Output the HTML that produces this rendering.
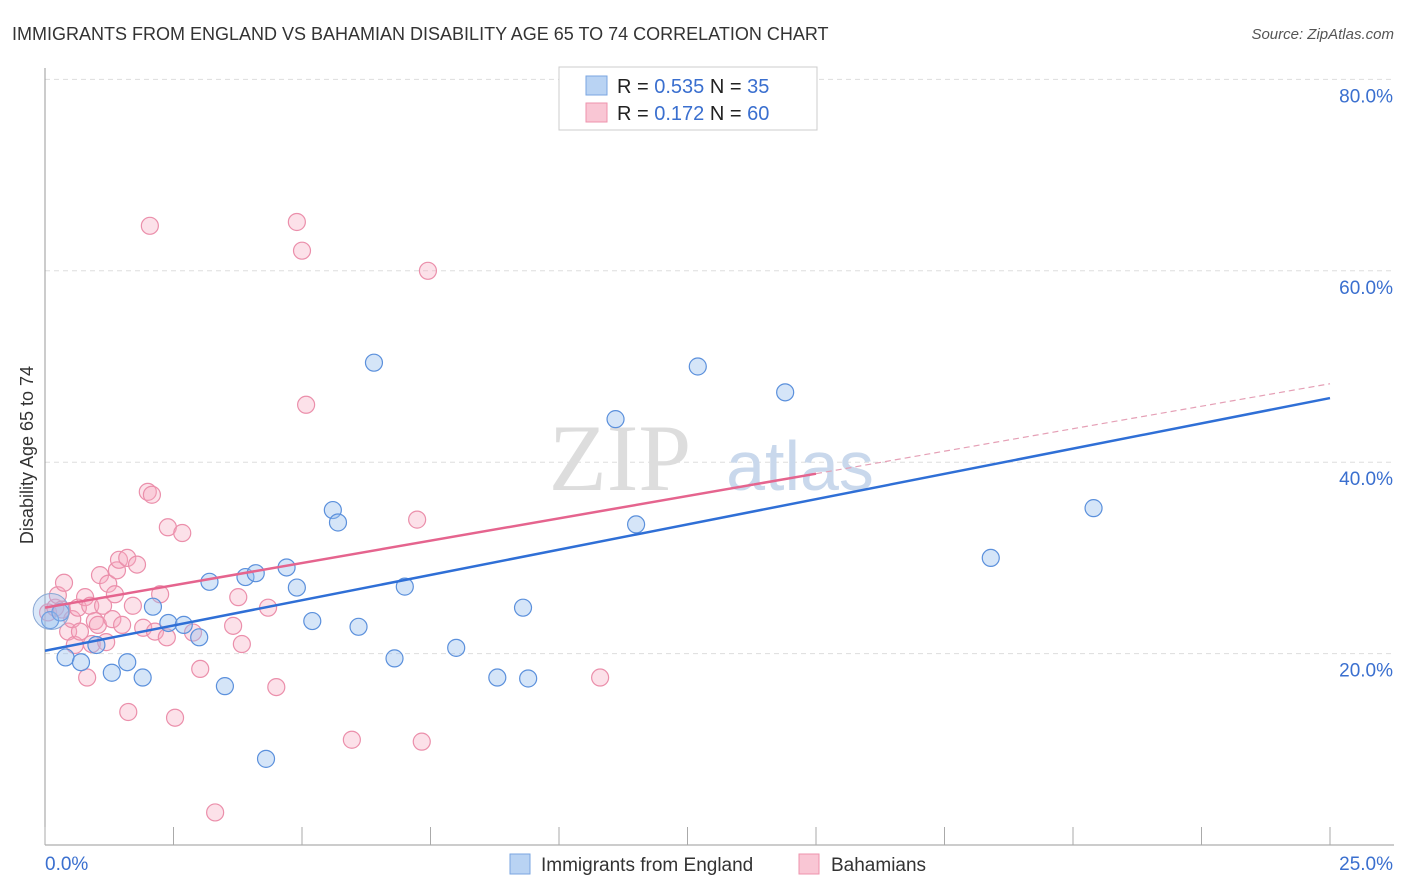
<!DOCTYPE html>
<html><head><meta charset="utf-8">
<style>
body{margin:0;background:#fff;font-family:"Liberation Sans",sans-serif;}
svg{display:block}
</style></head>
<body>
<svg id="chart" width="1406" height="892" viewBox="0 0 1406 892" xmlns="http://www.w3.org/2000/svg">
<text x="12" y="40" font-size="18" fill="#333">IMMIGRANTS FROM ENGLAND VS BAHAMIAN DISABILITY AGE 65 TO 74 CORRELATION CHART</text>
<text x="1394" y="39" font-size="15" fill="#555" text-anchor="end" font-style="italic">Source: ZipAtlas.com</text>
<text transform="translate(33,455) rotate(-90)" font-size="18" fill="#333" text-anchor="middle">Disability Age 65 to 74</text>
<g id="grid"></g>
<g id="axes"></g>
<text x="620" y="490" font-size="95" fill="#ddd" font-family="Liberation Serif,serif" text-anchor="middle">ZIP</text>
<text x="800" y="490" font-size="70" fill="#c9d8ec" text-anchor="middle">atlas</text>
<g id="pts"></g>
<g id="lines"></g>
<g>
<rect x="559" y="67" width="258" height="63" fill="#fff" stroke="#ccc"/>
<rect x="586" y="76" width="21" height="19" fill="#b9d3f3" stroke="#7aa6e0"/>
<rect x="586" y="103" width="21" height="19" fill="#f9c6d4" stroke="#ee93ad"/>
<text x="617" y="93" font-size="20" fill="#222">R = <tspan fill="#3a6fcf">0.535</tspan>   N = <tspan fill="#3a6fcf"> 35</tspan></text>
<text x="617" y="120" font-size="20" fill="#222">R =  <tspan fill="#3a6fcf">0.172</tspan>   N = <tspan fill="#3a6fcf">60</tspan></text>
</g>
<g>
<rect x="510" y="854" width="20" height="20" fill="#b9d3f3" stroke="#7aa6e0"/>
<text x="541" y="871" font-size="19" fill="#333">Immigrants from England</text>
<rect x="799" y="854" width="20" height="20" fill="#f9c6d4" stroke="#ee93ad"/>
<text x="831" y="871" font-size="19" fill="#333">Bahamians</text>
</g>
</svg>
<script>
const yTicks=[20,40,60,80];
const yTickLabels=["20.0%","40.0%","60.0%","80.0%"];
const xTicks=[0,2.5,5,7.5,10,12.5,15,17.5,20,22.5,25];
const englandX=[0.1,0.4,0.7,1.0,1.3,1.6,1.9,2.1,2.4,2.7,3.0,3.2,3.5,3.9,4.1,4.3,4.7,4.9,5.2,5.6,5.7,6.1,6.4,6.8,7.0,8.0,8.8,9.3,9.4,11.1,11.5,12.7,14.4,18.4,20.4,0.3];
const englandY=[23.5,19.6,19.1,20.9,18.0,19.1,17.5,24.9,23.2,23.0,21.7,27.5,16.6,28.0,28.4,9.0,29.0,26.9,23.4,35.0,33.7,22.8,50.4,19.5,27.0,20.6,17.5,24.8,17.4,44.5,33.5,50.0,47.3,30.0,35.2,24.3];
const bahamasX=[0.06,0.2,0.25,0.33,0.37,0.45,0.53,0.58,0.64,0.68,0.78,0.82,0.88,0.91,0.97,1.03,1.07,1.13,1.19,1.23,1.31,1.36,1.4,1.44,1.5,1.6,1.62,1.71,1.79,1.91,2.0,2.04,2.08,2.14,2.24,2.39,2.37,2.53,2.67,2.88,3.02,3.31,3.66,3.76,3.83,4.34,4.5,4.9,5.0,5.08,5.97,7.24,7.33,7.45,10.8];
const bahamasY=[24.3,24.8,26.1,24.6,27.4,22.3,23.6,20.9,24.8,22.3,25.9,17.5,25.0,21.0,23.4,23.0,28.2,25.0,21.2,27.3,23.6,26.2,28.7,29.8,23.0,30.0,13.9,25.0,29.3,22.7,36.9,64.7,36.6,22.3,26.2,33.2,21.7,13.3,32.6,22.2,18.4,3.4,22.9,25.9,21.0,24.8,16.5,65.1,62.1,46.0,11.0,34.0,10.8,60.0,17.5];
const englandLine=[[0,20.3],[25,46.7]];
const bahamasLine=[[0,24.8],[15,38.8]];
const bahamasDash=[[15,38.8],[25,48.2]];

const X0=45,X1=1330,Y0=845,PY=9.57;
const sx=v=>X0+(X1-X0)*v/25;
const sy=v=>Y0-v*PY;
const NS="http://www.w3.org/2000/svg";
function mk(tag,attrs,parent){const e=document.createElementNS(NS,tag);for(const k in attrs)e.setAttribute(k,attrs[k]);parent.appendChild(e);return e;}
const grid=document.getElementById('grid'),axes=document.getElementById('axes'),pts=document.getElementById('pts'),lines=document.getElementById('lines');
yTicks.forEach((t,i)=>{
 const l=mk('line',{x1:X0,x2:1394,y1:sy(t),y2:sy(t),stroke:'#ddd','stroke-dasharray':'5,4'},grid);
 
 
 const tx=mk('text',{x:1393,y:sy(t)+23,'font-size':19,fill:'#3a6fcf','text-anchor':'end'},axes);
 tx.textContent=yTickLabels[i];
 
 
});
mk('line',{x1:X0,x2:X0,y1:68,y2:Y0,stroke:'#999'},axes);
mk('line',{x1:X0,x2:1394,y1:Y0,y2:Y0,stroke:'#999'},axes);
xTicks.forEach(t=>{
 const l=mk('line',{x1:sx(t),x2:sx(t),y1:Y0,y2:Y0-18,stroke:'#aaa'},axes);
 
 
});
const xl0=mk('text',{x:45,y:870,'font-size':19,fill:'#3a6fcf'},axes);xl0.textContent='0.0%';


const xl1=mk('text',{x:1393,y:870,'font-size':19,fill:'#3a6fcf','text-anchor':'end'},axes);xl1.textContent='25.0%';


bahamasX.forEach((x,i)=>{
 const c=mk('circle',{cx:sx(x),cy:sy(bahamasY[i]),r:8.5,fill:'rgba(246,170,192,0.35)',stroke:'#eb8fab','stroke-width':1.2},pts);
 
 
});
englandX.forEach((x,i)=>{
 const c=mk('circle',{cx:sx(x),cy:sy(englandY[i]),r:8.5,fill:'rgba(150,190,238,0.4)',stroke:'#5b90dc','stroke-width':1.2},pts);
 
 
});
const big=mk('circle',{cx:sx(0.12),cy:sy(24.4),r:18,fill:'rgba(150,190,238,0.35)',stroke:'#8aa8d4','stroke-width':1},pts);


function ln(p,st,w,dash,name){const l=mk('line',{x1:sx(p[0][0]),y1:sy(p[0][1]),x2:sx(p[1][0]),y2:sy(p[1][1]),stroke:st,'stroke-width':w},lines);if(dash)l.setAttribute('stroke-dasharray',dash);
 
 }
ln(englandLine,'#2f6fd6',2.5,null,'trend-england');
ln(bahamasLine,'#e5648e',2.5,null,'trend-bahamians');
ln(bahamasDash,'#e5a0b6',1.2,'6,4','trend-bahamians-extension');
</script>
</body></html>
